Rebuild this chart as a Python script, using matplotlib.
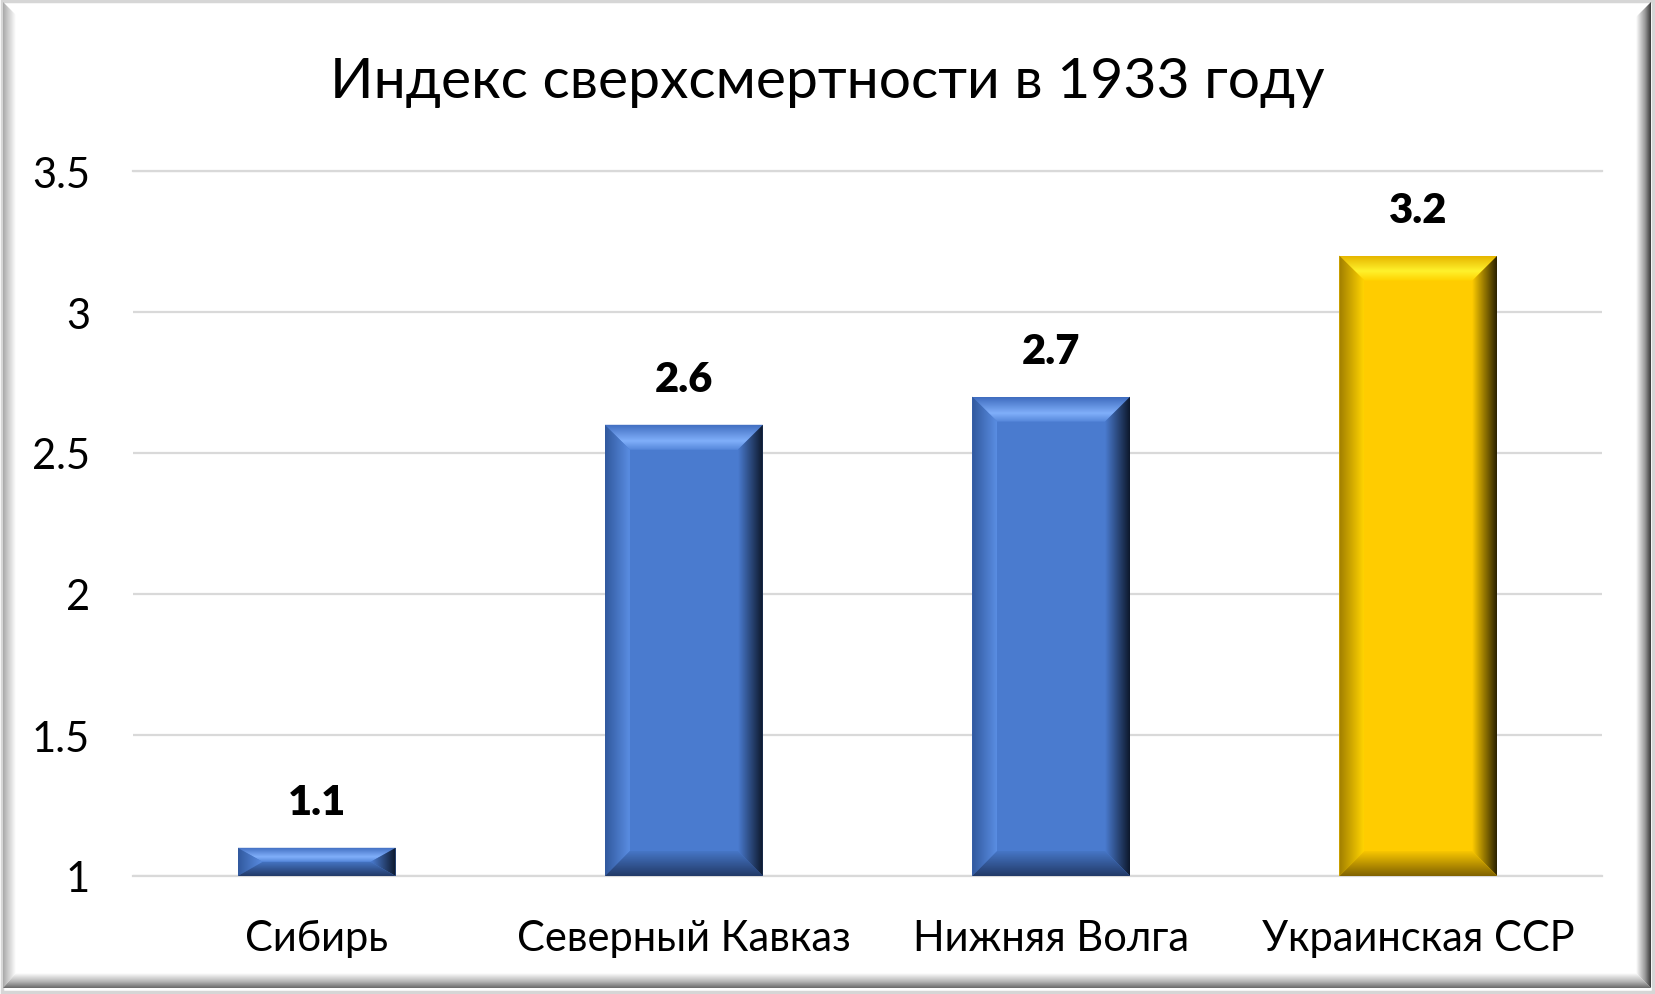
import matplotlib
matplotlib.use("Agg")
import matplotlib.pyplot as plt
import numpy as np
from matplotlib.patches import Polygon, Rectangle
from matplotlib.colors import to_rgba

# data
regions = ["Сибирь", "Северный Кавказ", "Нижняя Волга", "Украинская ССР"]
index_values = [1.1, 2.6, 2.7, 3.2]
value_labels = ["1.1", "2.6", "2.7", "3.2"]
bar_styles = ["blue", "blue", "blue", "gold"]
y_ticks = [1, 1.5, 2, 2.5, 3, 3.5]
y_tick_labels = ["1", "1.5", "2", "2.5", "3", "3.5"]
title = "Индекс сверхсмертности в 1933 году"

W, H = 1655, 995
plt.rcParams['font.family'] = ['Lato', 'Open Sans', 'DejaVu Sans']

palettes = {
    "blue": {"main": "#4A7BCF",
             "top": [(0.0, "#3F6CBF"), (0.65, "#80AFFA"), (1.0, "#5587DA")],
             "left": [(0.0, "#31599E"), (1.0, "#5A8DE2")],
             "right": [(0.0, "#4A7BCF"), (1.0, "#0D182C")],
             "bottom": [(0.0, "#4676C6"), (1.0, "#223A68")]},
    "gold": {"main": "#FFCC00",
             "top": [(0.0, "#E6B600"), (0.6, "#FFF22C"), (1.0, "#FFD200")],
             "left": [(0.0, "#A07E00"), (1.0, "#FFD300")],
             "right": [(0.0, "#FFCC00"), (1.0, "#2B2200")],
             "bottom": [(0.0, "#F8C600"), (1.0, "#806200")]},
}


def grad_colors(stops, n=64):
    pos = np.array([s[0] for s in stops])
    cols = np.array([to_rgba(s[1]) for s in stops])
    t = np.linspace(0, 1, n)
    return np.stack([np.interp(t, pos, cols[:, k]) for k in range(4)], axis=-1)


def gradient_poly(ax, verts, stops, direction, reverse=False, zorder=3):
    # direction 'v': stops run top->bottom of bbox, 'h': left->right
    verts = np.array(verts)
    x0, x1 = verts[:, 0].min(), verts[:, 0].max()
    y0, y1 = verts[:, 1].min(), verts[:, 1].max()
    c = grad_colors(stops)
    if reverse:
        c = c[::-1]
    if direction == "v":
        img = c[:, None, :]
    else:
        img = c[None, :, :]
    poly = Polygon(verts, closed=True, transform=ax.transData, facecolor="none", edgecolor="none")
    ax.add_patch(poly)
    im = ax.imshow(img, extent=(x0, x1, y0, y1), origin="upper", aspect="auto",
                   interpolation="bilinear", zorder=zorder)
    im.set_clip_path(poly)
    return im


fig = plt.figure(figsize=(W / 100, H / 100), dpi=100)
fig.patch.set_facecolor("white")

# picture frame with bevel, in pixel coordinates
frame = fig.add_axes([0, 0, 1, 1], zorder=0)
frame.set_xlim(0, W)
frame.set_ylim(H, 0)
frame.axis("off")
frame.add_patch(Rectangle((1.5, 1.5), W - 3.5, H - 4, facecolor="white", edgecolor="#D6D6D6", lw=2.5))
b = 13
L, T, R, B = 3, 3, 1651, 989
gradient_poly(frame, [(L, T), (L + b, T + b), (L + b, B - 15), (L, B)],
              [(0.0, "#A8A8A8"), (0.35, "#C8C8C8"), (1.0, "#FFFFFF")], "h", zorder=1)
gradient_poly(frame, [(L, B), (L + b, B - 15), (R - 15, B - 15), (R, B)],
              [(0.0, "#FFFFFF"), (0.6, "#B0B0B0"), (1.0, "#6A6A6A")], "v", reverse=True, zorder=1)
gradient_poly(frame, [(R - 15, T + b + 2), (R, T), (R, B), (R - 15, B - 15)],
              [(0.0, "#FFFFFF"), (0.6, "#9A9A9A"), (1.0, "#3A3A3A")], "h", zorder=1)
frame.set_xlim(0, W)
frame.set_ylim(H, 0)

ax = fig.add_axes([133 / W, 1 - 877 / H, (1602 - 133) / W, (877 - 172) / H], zorder=2)
ax.set_facecolor("none")
x = np.arange(len(regions))
bar_w = 0.43
ax.set_xlim(-0.5, len(regions) - 0.5)
ax.set_ylim(1, 3.5)

bars = ax.bar(x, [v - 1 for v in index_values], bottom=1, width=bar_w,
              color=[palettes[s]["main"] for s in bar_styles], zorder=3)

# bevel size: 25 px in both directions
px_x = (len(regions)) / (1602 - 133)
px_y = 2.5 / (877 - 172)
for rect, style in zip(bars, bar_styles):
    p = palettes[style]
    bx0 = rect.get_x()
    bx1 = bx0 + rect.get_width()
    by0 = rect.get_y()
    by1 = by0 + rect.get_height()
    dx = 25 * px_x
    dy = min(25 * px_y, (by1 - by0) / 2)
    gradient_poly(ax, [(bx0, by1), (bx1, by1), (bx1 - dx, by1 - dy), (bx0 + dx, by1 - dy)], p["top"], "v", zorder=4)
    gradient_poly(ax, [(bx0, by0), (bx0, by1), (bx0 + dx, by1 - dy), (bx0 + dx, by0 + dy)], p["left"], "h", zorder=4)
    gradient_poly(ax, [(bx1, by0), (bx1, by1), (bx1 - dx, by1 - dy), (bx1 - dx, by0 + dy)], p["right"], "h", zorder=4)
    gradient_poly(ax, [(bx0, by0), (bx1, by0), (bx1 - dx, by0 + dy), (bx0 + dx, by0 + dy)], p["bottom"], "v", zorder=4)

ax.set_xlim(-0.5, len(regions) - 0.5)
ax.set_ylim(1, 3.5)

for xi, v, lab in zip(x, index_values, value_labels):
    ax.annotate(lab, (xi, v), xytext=(0, 24), textcoords="offset points",
                ha="center", va="baseline", fontsize=30, fontweight="heavy", color="black", zorder=5)

ax.set_yticks(y_ticks)
ax.set_yticklabels(y_tick_labels, fontsize=30)
ax.set_xticks(x)
ax.set_xticklabels(regions, fontsize=30)
ax.tick_params(axis="y", length=0, pad=31)
ax.tick_params(axis="x", length=0, pad=31)
ax.grid(axis="y", color="#D9D9D9", linewidth=1.6, zorder=0)
ax.set_axisbelow(True)
for s in ["left", "right"]:
    ax.spines[s].set_visible(False)
for s in ["top", "bottom"]:
    ax.spines[s].set_color("#D9D9D9")
    ax.spines[s].set_linewidth(1.6)

fig.text(0.5, 1 - 98 / H, title, ha="center", va="baseline", fontsize=41, color="black")

fig.savefig("out.png", dpi=100, facecolor="white")
